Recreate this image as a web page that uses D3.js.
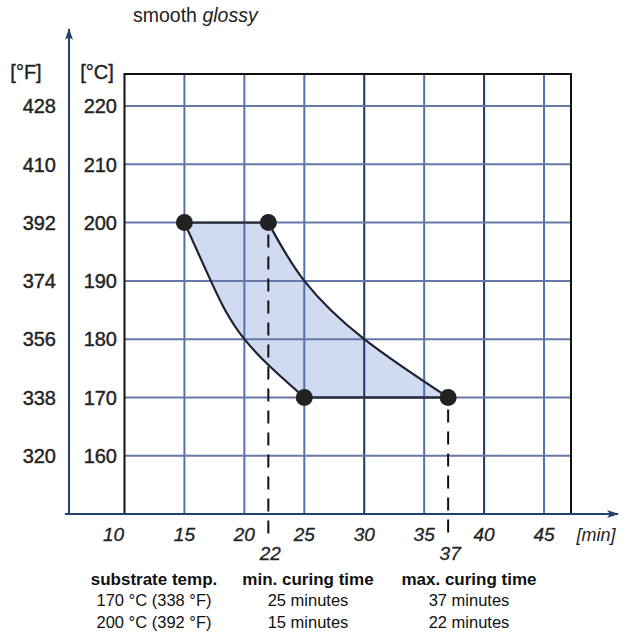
<!DOCTYPE html>
<html>
<head>
<meta charset="utf-8">
<script src="https://cdn.jsdelivr.net/npm/d3@7"></script>
<style>
  body { margin: 0; background: #fff; }
  text { font-family: Arial, "Liberation Sans", sans-serif; }
</style>
</head>
<body>
<div id="chart"></div>
<script>
// data
var minutesTicks = [10, 15, 20, 25, 30, 35, 40, 45];
var celsiusTicks = [160, 170, 180, 190, 200, 210, 220];
var fahrenheitTicks = [320, 338, 356, 374, 392, 410, 428];

// curing window (curve points at 200, 190, 180, 170 °C)
var curveTemps = [200, 190, 180, 170];
var curveMinTime = [15, 17.2, 20, 25];
var curveMaxTime = [22, 25, 30, 37];

// table under the chart
var tableHeaders = ["substrate temp.", "min. curing time", "max. curing time"];
var substrateTemp = ["170 °C (338 °F)", "200 °C (392 °F)"];
var substrateC = [170, 200];
var minCuring = [25, 15];
var maxCuring = [37, 22];

var svgWidth = 629;
var svgHeight = 634;

var svg = d3.select("#chart")
  .append("svg")
  .attr("width", svgWidth)
  .attr("height", svgHeight);

// scales
var x = d3.scaleLinear()
  .domain([10, 47.25])
  .range([124.5, 571]);

var y = d3.scaleLinear()
  .domain([150, 225.5])
  .range([514, 74]);

var gridBlue = "#5670ad";
var axisBlue = "#24416f";
var textColor = "#232323";

// title
var title = svg.append("text")
  .attr("x", 133)
  .attr("y", 22)
  .attr("font-size", "19.5px")
  .attr("fill", "#222");
title.append("tspan").text("smooth ");
title.append("tspan").attr("font-style", "italic").text("glossy");

// shaded curing window
var area = d3.area()
  .y(function(d, i) { return y(curveTemps[i]); })
  .x0(function(d, i) { return x(curveMinTime[i]); })
  .x1(function(d, i) { return x(curveMaxTime[i]); })
  .curve(d3.curveNatural);

svg.append("path")
  .attr("d", area(curveTemps))
  .attr("fill", "#d0daf0");

// grid lines
svg.append("g")
  .selectAll("line")
  .data(minutesTicks.filter(function(d) { return d > 10; }))
  .enter()
  .append("line")
  .attr("x1", function(d) { return x(d); })
  .attr("x2", function(d) { return x(d); })
  .attr("y1", y.range()[1])
  .attr("y2", y.range()[0])
  .attr("stroke", function(d) { return (d === 30 || d === 40) ? "#1f3561" : gridBlue; })
  .attr("stroke-width", 2);

svg.append("g")
  .selectAll("line")
  .data(celsiusTicks)
  .enter()
  .append("line")
  .attr("x1", x.range()[0])
  .attr("x2", x.range()[1])
  .attr("y1", function(d) { return y(d); })
  .attr("y2", function(d) { return y(d); })
  .attr("stroke", "#6578a8")
  .attr("stroke-width", 2);

// plot box
svg.append("rect")
  .attr("x", x.range()[0])
  .attr("y", y.range()[1])
  .attr("width", x.range()[1] - x.range()[0])
  .attr("height", y.range()[0] - y.range()[1])
  .attr("fill", "none")
  .attr("stroke", "#111")
  .attr("stroke-width", 2);

// axes with arrows
svg.append("defs").append("marker")
  .attr("id", "arrow")
  .attr("viewBox", "0 0 12 8")
  .attr("refX", 11)
  .attr("refY", 4)
  .attr("markerWidth", 12)
  .attr("markerHeight", 8)
  .attr("markerUnits", "userSpaceOnUse")
  .attr("orient", "auto")
  .append("path")
  .attr("d", "M0,0 L12,4 L0,8 L3,4 Z")
  .attr("fill", axisBlue);

svg.append("line")
  .attr("x1", 65).attr("x2", 618)
  .attr("y1", y(150)).attr("y2", y(150))
  .attr("stroke", axisBlue)
  .attr("stroke-width", 2)
  .attr("marker-end", "url(#arrow)");

svg.append("line")
  .attr("x1", 69).attr("x2", 69)
  .attr("y1", y(150)).attr("y2", 29)
  .attr("stroke", axisBlue)
  .attr("stroke-width", 2)
  .attr("marker-end", "url(#arrow)");

// dashed guide lines for the max times
svg.append("g")
  .selectAll("line")
  .data(d3.range(substrateC.length))
  .enter()
  .append("line")
  .attr("x1", function(i) { return x(maxCuring[i]); })
  .attr("x2", function(i) { return x(maxCuring[i]); })
  .attr("y1", function(i) { return y(substrateC[i]) + 12; })
  .attr("y2", 534)
  .attr("stroke", "#111")
  .attr("stroke-width", 2)
  .attr("stroke-dasharray", "13,9");

// edges of the window
var curveLine = function(times) {
  return d3.line()
    .x(function(d, i) { return x(times[i]); })
    .y(function(d, i) { return y(curveTemps[i]); })
    .curve(d3.curveNatural)(curveTemps);
};

svg.append("path")
  .attr("d", curveLine(curveMinTime))
  .attr("fill", "none")
  .attr("stroke", "#1c2233")
  .attr("stroke-width", 2.2);

svg.append("path")
  .attr("d", curveLine(curveMaxTime))
  .attr("fill", "none")
  .attr("stroke", "#1c2233")
  .attr("stroke-width", 2.2);

svg.append("g")
  .selectAll("line")
  .data(d3.range(substrateC.length))
  .enter()
  .append("line")
  .attr("x1", function(i) { return x(minCuring[i]); })
  .attr("x2", function(i) { return x(maxCuring[i]); })
  .attr("y1", function(i) { return y(substrateC[i]); })
  .attr("y2", function(i) { return y(substrateC[i]); })
  .attr("stroke", "#2a2f3d")
  .attr("stroke-width", 2.4);

// corner points
var points = [];
substrateC.forEach(function(t, i) {
  points.push([minCuring[i], t]);
  points.push([maxCuring[i], t]);
});

svg.append("g")
  .selectAll("circle")
  .data(points)
  .enter()
  .append("circle")
  .attr("cx", function(d) { return x(d[0]); })
  .attr("cy", function(d) { return y(d[1]); })
  .attr("r", 8.5)
  .attr("fill", "#222");

// left tick labels
svg.append("g")
  .selectAll("text")
  .data(fahrenheitTicks)
  .enter()
  .append("text")
  .attr("x", 56)
  .attr("y", function(d, i) { return y(celsiusTicks[i]); })
  .attr("dy", "0.36em")
  .attr("text-anchor", "end")
  .attr("font-size", "20px")
  .attr("fill", textColor)
  .attr("stroke", textColor)
  .attr("stroke-width", 0.4)
  .text(function(d) { return d; });

svg.append("g")
  .selectAll("text")
  .data(celsiusTicks)
  .enter()
  .append("text")
  .attr("x", 117)
  .attr("y", function(d) { return y(d); })
  .attr("dy", "0.36em")
  .attr("text-anchor", "end")
  .attr("font-size", "20px")
  .attr("fill", textColor)
  .attr("stroke", textColor)
  .attr("stroke-width", 0.4)
  .text(function(d) { return d; });

svg.append("text")
  .attr("x", 26).attr("y", 79)
  .attr("text-anchor", "middle")
  .attr("font-size", "20px")
  .attr("fill", textColor)
  .attr("stroke", textColor)
  .attr("stroke-width", 0.4)
  .text("[°F]");

svg.append("text")
  .attr("x", 97).attr("y", 79)
  .attr("text-anchor", "middle")
  .attr("font-size", "20px")
  .attr("fill", textColor)
  .attr("stroke", textColor)
  .attr("stroke-width", 0.4)
  .text("[°C]");

// bottom tick labels
svg.append("g")
  .selectAll("text")
  .data(minutesTicks)
  .enter()
  .append("text")
  .attr("x", function(d) { return x(d) - (d === 10 ? 11 : 0); })
  .attr("y", 541)
  .attr("text-anchor", "middle")
  .attr("font-size", "19px")
  .attr("font-style", "italic")
  .attr("fill", textColor)
  .attr("stroke", textColor)
  .attr("stroke-width", 0.3)
  .text(function(d) { return d; });

svg.append("g")
  .selectAll("text")
  .data(maxCuring)
  .enter()
  .append("text")
  .attr("x", function(d) { return x(d) + 2; })
  .attr("y", 560)
  .attr("text-anchor", "middle")
  .attr("font-size", "19px")
  .attr("font-style", "italic")
  .attr("fill", textColor)
  .attr("stroke", textColor)
  .attr("stroke-width", 0.3)
  .text(function(d) { return d; });

svg.append("text")
  .attr("x", 596).attr("y", 541)
  .attr("text-anchor", "middle")
  .attr("font-size", "18px")
  .attr("font-style", "italic")
  .attr("fill", textColor)
  .text("[min]");

// table
var colX = [154, 308, 469];

svg.append("g")
  .selectAll("text")
  .data(tableHeaders)
  .enter()
  .append("text")
  .attr("x", function(d, i) { return colX[i]; })
  .attr("y", 585)
  .attr("text-anchor", "middle")
  .attr("font-size", "17px")
  .attr("font-weight", "bold")
  .attr("fill", "#111")
  .text(function(d) { return d; });

var rows = substrateTemp.map(function(s, i) {
  return [s, minCuring[i] + " minutes", maxCuring[i] + " minutes"];
});

rows.forEach(function(row, r) {
  svg.append("g")
    .selectAll("text")
    .data(row)
    .enter()
    .append("text")
    .attr("x", function(d, i) { return colX[i]; })
    .attr("y", 606 + r * 21.5)
    .attr("text-anchor", "middle")
    .attr("font-size", "16.5px")
    .attr("fill", "#111")
    .text(function(d) { return d; });
});
</script>
</body>
</html>
